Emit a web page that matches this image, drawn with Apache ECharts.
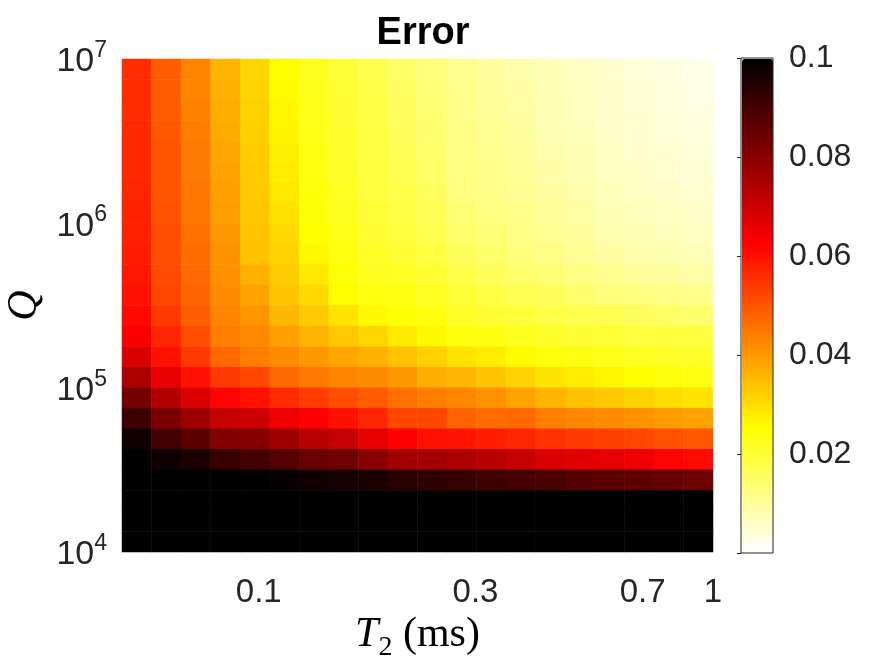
<!DOCTYPE html>
<html>
<head>
<meta charset="utf-8">
<title>Error</title>
<script src="https://cdn.jsdelivr.net/npm/echarts@6/dist/echarts.min.js"></script>
<style>
  html, body { margin: 0; padding: 0; background: #fff; }
  #errorMap { width: 888px; height: 659px; }
</style>
</head>
<body>
<div id="errorMap"></div>
<script>
// T2 (ms) at the centre of each heatmap column (log spaced 0.05 .. 1)
const t2Centers = [0.0539, 0.0626, 0.0727, 0.0844, 0.098, 0.1138, 0.1322, 0.1535, 0.1783, 0.2071,
  0.2404, 0.2793, 0.3243, 0.3766, 0.4374, 0.508, 0.5899, 0.6851, 0.7957, 0.924]
// log10(Q) at the centre of each heatmap row, bottom to top
const qExpCenters = [4.0625, 4.1875, 4.3125, 4.4375, 4.5625, 4.6875, 4.8125, 4.9375,
  5.0625, 5.1875, 5.3125, 5.4375, 5.5625, 5.6875, 5.8125, 5.9375,
  6.0625, 6.1875, 6.3125, 6.4375, 6.5625, 6.6875, 6.8125, 6.9375]
// error, one array per T2 column, from Q = 1e7 (top) down to Q = 1e4
const errorColumns = [
  [0.056, 0.056, 0.056, 0.0563, 0.0565, 0.0565, 0.057, 0.0573, 0.0577, 0.058, 0.059, 0.060, 0.061, 0.063, 0.068, 0.075, 0.083, 0.091, 0.098, 0.1, 0.1, 0.1, 0.1, 0.1],
  [0.049, 0.049, 0.049, 0.0495, 0.050, 0.050, 0.050, 0.0505, 0.051, 0.051, 0.0515, 0.052, 0.054, 0.057, 0.060, 0.066, 0.074, 0.082, 0.090, 0.098, 0.1, 0.1, 0.1, 0.1],
  [0.043, 0.043, 0.0435, 0.044, 0.0445, 0.0445, 0.045, 0.045, 0.046, 0.0465, 0.047, 0.0475, 0.0485, 0.051, 0.054, 0.060, 0.068, 0.077, 0.086, 0.096, 0.1, 0.1, 0.1, 0.1],
  [0.036, 0.0365, 0.037, 0.0375, 0.038, 0.0385, 0.039, 0.0395, 0.040, 0.041, 0.041, 0.042, 0.043, 0.044, 0.047, 0.054, 0.062, 0.071, 0.081, 0.092, 0.1, 0.1, 0.1, 0.1],
  [0.031, 0.0313, 0.0317, 0.032, 0.0323, 0.0327, 0.033, 0.0333, 0.0337, 0.034, 0.0365, 0.0385, 0.0405, 0.0423, 0.044, 0.052, 0.060, 0.070, 0.080, 0.090, 0.1, 0.1, 0.1, 0.1],
  [0.025, 0.0255, 0.026, 0.0265, 0.027, 0.0277, 0.0285, 0.0295, 0.0305, 0.0315, 0.0325, 0.0335, 0.0355, 0.039, 0.042, 0.047, 0.056, 0.065, 0.077, 0.088, 0.099, 0.1, 0.1, 0.1],
  [0.022, 0.0222, 0.0225, 0.0228, 0.0232, 0.0236, 0.024, 0.0245, 0.0248, 0.026, 0.0283, 0.0305, 0.0327, 0.036, 0.040, 0.0447, 0.0535, 0.0625, 0.073, 0.085, 0.098, 0.1, 0.1, 0.1],
  [0.0195, 0.0198, 0.020, 0.0203, 0.0206, 0.021, 0.0215, 0.022, 0.0227, 0.0235, 0.0243, 0.025, 0.029, 0.033, 0.038, 0.043, 0.051, 0.060, 0.071, 0.084, 0.097, 0.1, 0.1, 0.1],
  [0.0175, 0.0178, 0.018, 0.0183, 0.0186, 0.0188, 0.019, 0.0195, 0.020, 0.021, 0.022, 0.0235, 0.0258, 0.031, 0.0365, 0.042, 0.049, 0.057, 0.066, 0.080, 0.096, 0.1, 0.1, 0.1],
  [0.015, 0.0153, 0.0157, 0.016, 0.0165, 0.017, 0.0176, 0.0183, 0.019, 0.020, 0.0215, 0.023, 0.0245, 0.028, 0.0337, 0.040, 0.046, 0.052, 0.0625, 0.076, 0.094, 0.1, 0.1, 0.1],
  [0.013, 0.0133, 0.0137, 0.014, 0.0145, 0.015, 0.0157, 0.0165, 0.0175, 0.0186, 0.020, 0.0215, 0.0235, 0.0258, 0.0318, 0.037, 0.044, 0.052, 0.060, 0.076, 0.093, 0.1, 0.1, 0.1],
  [0.011, 0.0113, 0.0116, 0.012, 0.0122, 0.0124, 0.0125, 0.0135, 0.0148, 0.016, 0.0178, 0.0195, 0.021, 0.0237, 0.029, 0.0357, 0.0428, 0.048, 0.0595, 0.0745, 0.092, 0.1, 0.1, 0.1],
  [0.0095, 0.0098, 0.010, 0.0105, 0.011, 0.0115, 0.012, 0.0124, 0.0135, 0.0145, 0.016, 0.018, 0.020, 0.0233, 0.0275, 0.0335, 0.041, 0.0465, 0.058, 0.073, 0.091, 0.1, 0.1, 0.1],
  [0.0083, 0.0086, 0.009, 0.0094, 0.0098, 0.0103, 0.0108, 0.0114, 0.012, 0.0128, 0.0147, 0.0168, 0.0193, 0.022, 0.0255, 0.0315, 0.0385, 0.047, 0.057, 0.071, 0.090, 0.1, 0.1, 0.1],
  [0.007, 0.0072, 0.0075, 0.0078, 0.0082, 0.0087, 0.0092, 0.0098, 0.0107, 0.0117, 0.0137, 0.016, 0.018, 0.021, 0.024, 0.029, 0.036, 0.044, 0.055, 0.068, 0.089, 0.1, 0.1, 0.1],
  [0.0059, 0.006, 0.0064, 0.0068, 0.0072, 0.0077, 0.0082, 0.0088, 0.0095, 0.0105, 0.012, 0.0145, 0.0175, 0.020, 0.023, 0.0278, 0.034, 0.0428, 0.054, 0.067, 0.088, 0.1, 0.1, 0.1],
  [0.0048, 0.005, 0.0052, 0.0055, 0.0058, 0.006, 0.0066, 0.0073, 0.0081, 0.009, 0.011, 0.013, 0.017, 0.0195, 0.0225, 0.0265, 0.033, 0.042, 0.053, 0.066, 0.087, 0.1, 0.1, 0.1],
  [0.0038, 0.004, 0.0042, 0.0045, 0.0049, 0.0054, 0.0058, 0.0065, 0.0073, 0.0082, 0.010, 0.0125, 0.0158, 0.019, 0.0215, 0.025, 0.0315, 0.041, 0.052, 0.065, 0.086, 0.1, 0.1, 0.1],
  [0.003, 0.0032, 0.0035, 0.0038, 0.0042, 0.0047, 0.0052, 0.0058, 0.0066, 0.0076, 0.0094, 0.0118, 0.015, 0.019, 0.0213, 0.024, 0.030, 0.0395, 0.0505, 0.062, 0.085, 0.1, 0.1, 0.1],
  [0.0024, 0.0026, 0.0029, 0.0033, 0.0037, 0.0041, 0.0046, 0.0052, 0.0059, 0.007, 0.0088, 0.0112, 0.0145, 0.0188, 0.021, 0.023, 0.029, 0.0385, 0.0495, 0.061, 0.084, 0.1, 0.1, 0.1]
]
// axis tick labels
const t2Ticks = [0.1, 0.3, 0.7, 1]
const qTickExps = [4, 5, 6, 7]
const colorTicks = [0.02, 0.04, 0.06, 0.08, 0.1]

// flipped "hot" colour map, white (low) -> yellow -> red -> black (high)
const hotFlipped = ['#ffffff', '#ffff80', '#ffff00', '#ffaa00', '#ff5500',
  '#ff0000', '#aa0000', '#550000', '#000000']

const heatData = []
errorColumns.forEach(function (col, ci) {
  col.forEach(function (v, k) {
    heatData.push([ci, qExpCenters.length - 1 - k, v])
  })
})

const labelColor = '#262626'
const sansFont = '"Liberation Sans", Arial, sans-serif'
const serifFont = '"Liberation Serif", "DejaVu Serif", serif'

const chart = echarts.init(document.getElementById('errorMap'))
const option = {
  backgroundColor: '#fff',
  animation: false,
  title: {
    text: 'Error',
    left: 418,
    top: 10,
    textAlign: 'center',
    textStyle: { fontFamily: sansFont, fontSize: 38, fontWeight: 'bold', color: '#000' }
  },
  grid: [
    { left: 122, top: 59, width: 591, height: 493, outerBoundsMode: 'none', containLabel: false },
    // colour bar frame
    { left: 741, top: 58, width: 32, height: 495, outerBoundsMode: 'none', containLabel: false, show: true, borderColor: labelColor, borderWidth: 1, backgroundColor: 'transparent', z: 5 }
  ],
  xAxis: [
    { type: 'category', gridIndex: 0, data: t2Centers, show: false },
    {
      type: 'value',
      gridIndex: 0,
      position: 'bottom',
      min: Math.log10(0.05),
      max: 0,
      name: '{it|T}{sub|2}{n| (ms)}',
      nameLocation: 'middle',
      nameGap: 60,
      nameTextStyle: {
        rich: {
          it: { fontFamily: serifFont, fontStyle: 'italic', fontSize: 42, color: '#000', lineHeight: 48, verticalAlign: 'top' },
          sub: { fontFamily: serifFont, fontSize: 28, color: '#000', lineHeight: 24, verticalAlign: 'bottom' },
          n: { fontFamily: serifFont, fontSize: 42, color: '#000', lineHeight: 48, verticalAlign: 'top' }
        }
      },
      axisLine: { show: false },
      axisTick: { show: false },
      splitLine: { show: false },
      axisLabel: {
        customValues: t2Ticks.map(function (t) { return Math.log10(t) }),
        formatter: function (v) { return String(Math.round(Math.pow(10, v) * 10) / 10) },
        margin: 24,
        fontFamily: sansFont,
        fontSize: 33,
        color: labelColor
      }
    },
    { type: 'value', gridIndex: 1, show: false, min: 0, max: 1 }
  ],
  yAxis: [
    { type: 'category', gridIndex: 0, data: qExpCenters, show: false },
    {
      type: 'value',
      gridIndex: 0,
      position: 'left',
      min: 4,
      max: 7,
      interval: 1,
      name: 'Q',
      nameLocation: 'middle',
      nameGap: 72,
      nameRotate: 90,
      nameTextStyle: { fontFamily: serifFont, fontStyle: 'italic', fontSize: 42, color: '#000' },
      axisLine: { show: false },
      axisTick: { show: false },
      splitLine: { show: false },
      axisLabel: {
        customValues: qTickExps,
        margin: 15,
        formatter: function (v) { return '{b|10}{s|' + v + '}' },
        rich: {
          b: { fontFamily: sansFont, fontSize: 34, color: labelColor, lineHeight: 40, verticalAlign: 'bottom' },
          s: { fontFamily: sansFont, fontSize: 23, color: labelColor, lineHeight: 22, verticalAlign: 'top' }
        }
      }
    },
    {
      type: 'value',
      gridIndex: 1,
      position: 'right',
      min: 0,
      max: 0.1,
      interval: 0.02,
      axisLine: { show: false },
      splitLine: { show: false },
      axisTick: { show: true, inside: true, length: 4, lineStyle: { color: labelColor } },
      axisLabel: {
        customValues: colorTicks,
        margin: 16,
        fontFamily: sansFont,
        fontSize: 32,
        color: labelColor
      }
    }
  ],
  visualMap: {
    type: 'continuous',
    min: 0,
    max: 0.1,
    seriesIndex: 0,
    calculable: false,
    orient: 'vertical',
    left: 742,
    top: 59,
    padding: 0,
    itemWidth: 31,
    itemHeight: 493,
    text: null,
    showLabel: false,
    inRange: { color: hotFlipped }
  },
  series: [{
    name: 'Error',
    type: 'heatmap',
    xAxisIndex: 0,
    yAxisIndex: 0,
    data: heatData,
    emphasis: { disabled: true }
  }]
}
chart.setOption(option)
</script>
</body>
</html>
